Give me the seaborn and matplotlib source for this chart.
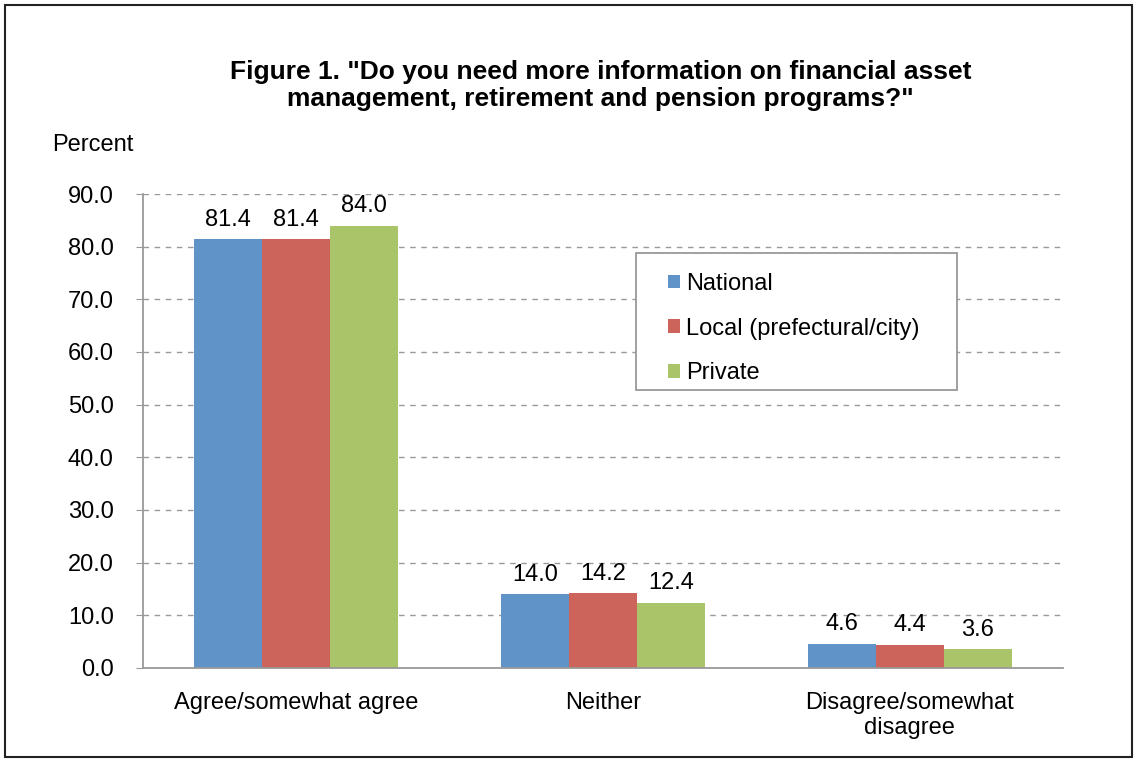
import pandas as pd
import matplotlib.pyplot as plt
import matplotlib.patches as mpatches
import seaborn as sns

# === DATA ===
categories = ["Agree/somewhat agree", "Neither", "Disagree/somewhat\ndisagree"]
series = ["National", "Local (prefectural/city)", "Private"]
national = [81.4, 14.0, 4.6]
local = [81.4, 14.2, 4.4]
private = [84.0, 12.4, 3.6]
colors = ["#6094C9", "#CD645C", "#AAC46A"]

df = pd.DataFrame({
    "category": categories * 3,
    "group": [s for s in series for _ in categories],
    "value": national + local + private,
})

# === STYLE ===
sns.set_style("white")
plt.rcParams["font.family"] = ["Liberation Sans", "DejaVu Sans"]
plt.rcParams["text.color"] = "black"
plt.rcParams["xtick.color"] = "black"
plt.rcParams["ytick.color"] = "black"

fig = plt.figure(figsize=(11.37, 7.62), dpi=100)
ax = fig.add_axes([0.1258, 0.1234, 0.8093, 0.6220])

sns.barplot(data=df, x="category", y="value", hue="group", order=categories,
            hue_order=series, palette=colors, width=0.665, gap=0,
            linewidth=0, saturation=1, ax=ax)

for cont in ax.containers:
    ax.bar_label(cont, fmt="%.1f", padding=6, fontsize=17)

# === AXES ===
ax.set_ylim(0, 90)
ax.set_yticks(range(0, 91, 10))
ax.set_yticklabels([f"{v:.1f}" for v in range(0, 91, 10)], fontsize=17)
ax.set_xticks(range(len(categories)))
ax.set_xticklabels(categories, fontsize=17, linespacing=1.2)
ax.tick_params(axis="x", length=0, pad=17)
ax.tick_params(axis="y", length=5, color="#999999", left=True, pad=16)
ax.set_xlabel("")
ax.set_ylabel("")
ax.set_xlim(-0.5, 2.5)
ax.yaxis.grid(True, linestyle=(0, (4, 4)), color="#999999", linewidth=1)
ax.set_axisbelow(True)
for side in ["top", "right"]:
    ax.spines[side].set_visible(False)
for side in ["left", "bottom"]:
    ax.spines[side].set_color("#999999")
    ax.spines[side].set_linewidth(1.3)

# legend: entries without frame, box drawn separately (Excel-style padding)
leg = ax.legend(loc="upper left", bbox_to_anchor=(0.5707, 0.834), fontsize=17,
                frameon=False, handlelength=0.5, handleheight=0.5,
                handletextpad=0.25, labelspacing=0.97, borderpad=0,
                borderaxespad=0)
ax.add_patch(mpatches.Rectangle((0.5359, 0.5865), 0.3489, 0.289, transform=ax.transAxes,
                                facecolor="white", edgecolor="#999999", linewidth=1.3,
                                zorder=4))
leg.set_zorder(5)

# === TEXT ===
fig.text(0.528, 0.888, 'Figure 1. "Do you need more information on financial asset\nmanagement, retirement and pension programs?"',
         ha="center", va="center", fontsize=19, fontweight="bold", linespacing=1.15)
fig.text(0.046, 0.810, "Percent", ha="left", va="center", fontsize=17)

# outer border
fig.patches.append(mpatches.Rectangle((0.004, 0.006), 0.992, 0.988, transform=fig.transFigure,
                                      fill=False, edgecolor="#222222", linewidth=1.5))

plt.savefig("out.png", dpi=100)
plt.close(fig)
